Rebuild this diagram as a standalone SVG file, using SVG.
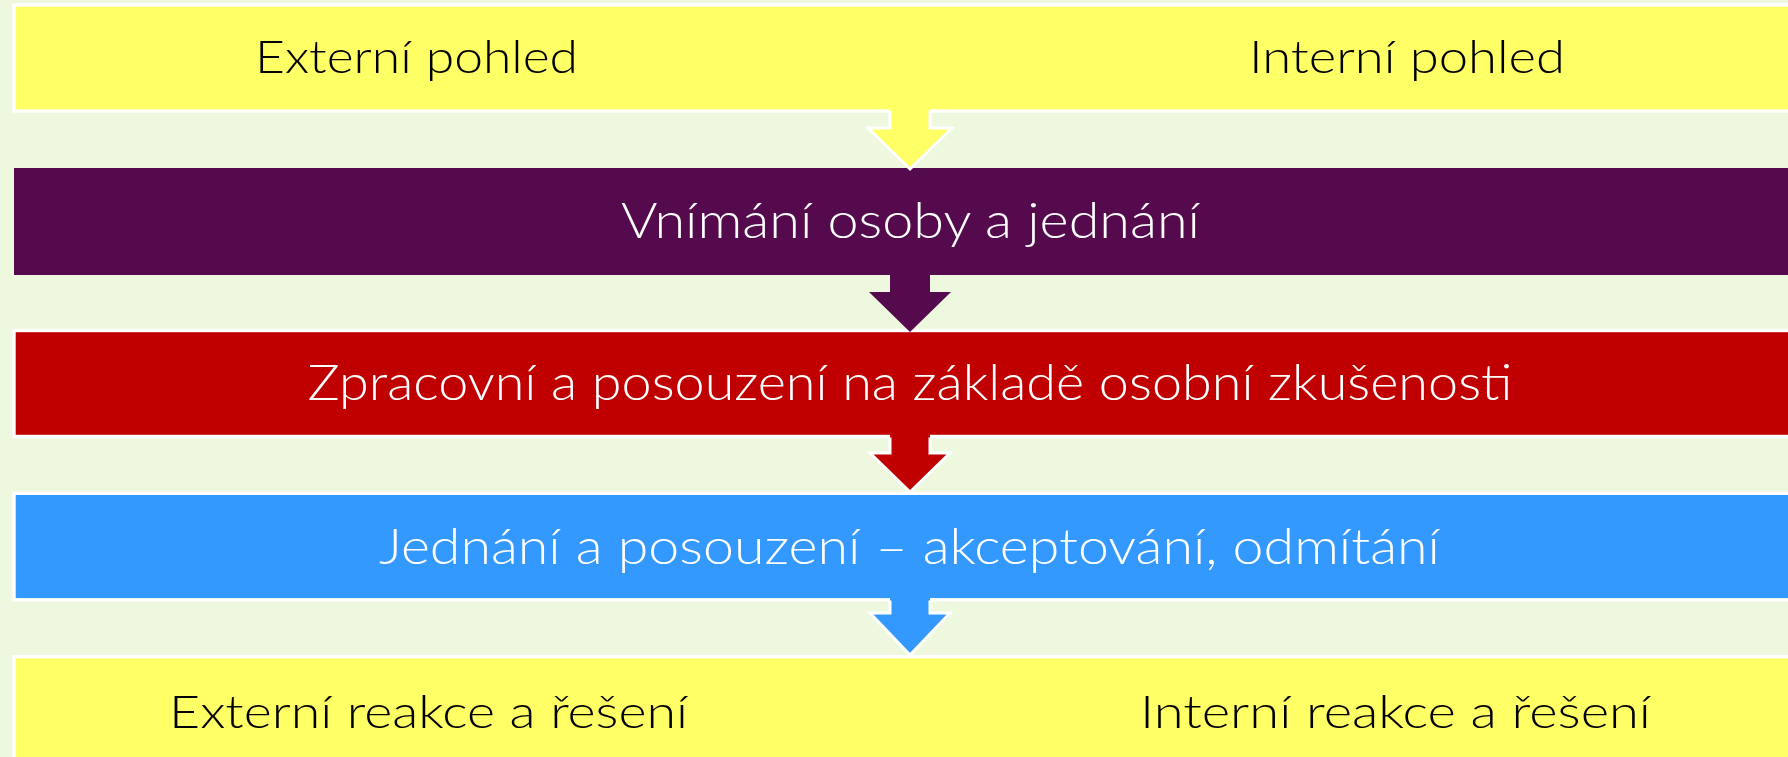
<svg xmlns="http://www.w3.org/2000/svg" width="1788" height="757" viewBox="0 0 1788 757">
<style>
.bg{fill:#EEF8DE}
.t{font-family:Lato,"Liberation Sans",Arial,sans-serif;font-weight:300;}
.big{font-size:50px;fill:#FFFFFF}
.sm{font-size:45px;fill:#000000}
.wstroke{stroke:#FFFFFF;stroke-width:3.4}
.aout{fill:none;stroke:#FFFFFF;stroke-width:3;stroke-linejoin:miter}
</style>
<rect class="bg" x="0" y="0" width="1788" height="757"/>
<g id="node-top">
<rect x="14" y="5" width="1800" height="106" fill="#FFFF66" class="wstroke"/>
<text class="t sm" x="255" y="73.3" textLength="323" lengthAdjust="spacingAndGlyphs">Externí pohled</text>
<text class="t sm" x="1249" y="73.3" textLength="316" lengthAdjust="spacingAndGlyphs">Interní pohled</text>
</g>
<g id="node-vnimani">
<rect x="14" y="168" width="1800" height="107" fill="#550A4E"/>
<text class="t big" x="621" y="238" textLength="579" lengthAdjust="spacingAndGlyphs">Vnímání osoby a jednání</text>
</g>
<g id="node-zpracovani">
<rect x="14" y="330.5" width="1800" height="106" fill="#C00000" class="wstroke"/>
<text class="t big" x="307.5" y="400" textLength="1205" lengthAdjust="spacingAndGlyphs">Zpracovní a posouzení na základě osobní zkušenosti</text>
</g>
<g id="node-jednani">
<rect x="14" y="493.3" width="1800" height="106.5" fill="#3399FF" class="wstroke"/>
<text class="t big" x="379" y="564" textLength="1061" lengthAdjust="spacingAndGlyphs">Jednání a posouzení – akceptování, odmítání</text>
</g>
<g id="node-bottom">
<rect x="14" y="656.7" width="1800" height="120" fill="#FFFF66" class="wstroke"/>
<text class="t sm" x="169" y="728" textLength="519" lengthAdjust="spacingAndGlyphs">Externí reakce a řešení</text>
<text class="t sm" x="1140" y="728" textLength="511" lengthAdjust="spacingAndGlyphs">Interní reakce a řešení</text>
</g>
<g id="connectors">
<polygon points="890,107 890,128 868,128 910,169 952,128 930,128 930,107" fill="#FFFF66"/>
<polyline class="aout" points="890,111 890,128 868,128 910,169 952,128 930,128 930,111"/>
<polygon points="890,273 890,292 869,292 910,332 951,292 930,292 930,273" fill="#550A4E"/>
<polygon points="890,434 890,453 870,453 910,492 950,453 930,453 930,434" fill="#C00000"/>
<polyline class="aout" points="890,437.5 890,453 870,453 910,492 950,453 930,453 930,437.5"/>
<polygon points="890,597 890,613 870,613 910,655 950,613 930,613 930,597" fill="#3399FF"/>
<polyline class="aout" points="890,600.5 890,613 870,613 910,655 950,613 930,613 930,600.5"/>
</g>
</svg>
